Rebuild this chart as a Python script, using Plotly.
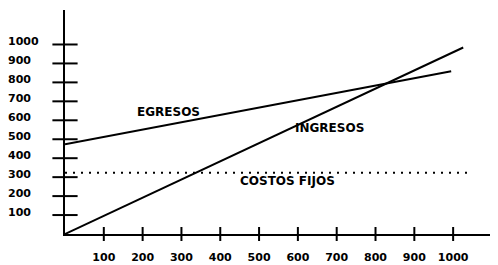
import plotly.graph_objects as go

# Data
tick_vals = [100, 200, 300, 400, 500, 600, 700, 800, 900, 1000]
tick_text = ["100", "200", "300", "400", "500", "600", "700", "800", "900", "1000"]

egresos_x = [0, 995]
egresos_y = [474, 859]
ingresos_x = [0, 1026]
ingresos_y = [0, 984]
costos_x = [0, 1044]
costos_y = [323, 323]

FONT = "DejaVu Sans"
fig = go.Figure()

fig.add_trace(go.Scatter(x=egresos_x, y=egresos_y, mode="lines",
                         line=dict(color="black", width=2), showlegend=False))
fig.add_trace(go.Scatter(x=ingresos_x, y=ingresos_y, mode="lines",
                         line=dict(color="black", width=2), showlegend=False))
fig.add_trace(go.Scatter(x=costos_x, y=costos_y, mode="lines",
                         line=dict(color="black", width=2, dash="2px,6px"), showlegend=False))

# crossing tick marks on the y axis
fig.add_trace(go.Scatter(x=[0] * len(tick_vals), y=tick_vals, mode="markers",
                         marker=dict(symbol="line-ew", size=18,
                                     line=dict(color="black", width=2)),
                         showlegend=False, cliponaxis=False, hoverinfo="skip"))
# crossing tick marks on the x axis
fig.add_trace(go.Scatter(x=tick_vals, y=[0] * len(tick_vals), mode="markers",
                         marker=dict(symbol="line-ns", size=10,
                                     line=dict(color="black", width=2)),
                         showlegend=False, cliponaxis=False, hoverinfo="skip"))

# y tick labels (left aligned)
for v, t in zip(tick_vals, tick_text):
    fig.add_annotation(x=-0.136, xref="paper", y=v, yref="y", text=t,
                       xanchor="left", yanchor="middle", showarrow=False, yshift=3,
                       font=dict(family=FONT, size=11, color="black", weight="bold"))

lab_font = dict(family=FONT, size=12, color="black", weight="bold")
fig.add_annotation(x=180, y=646, text="EGRESOS", xanchor="left", yanchor="middle",
                   showarrow=False, font=lab_font)
fig.add_annotation(x=588, y=560, text="INGRESOS", xanchor="left", yanchor="middle",
                   showarrow=False, font=lab_font)
fig.add_annotation(x=446, y=281, text="COSTOS FIJOS", xanchor="left", yanchor="middle",
                   showarrow=False, font=lab_font)

# page body adds an 8px margin, so the figure is sized to fit the window
fig.update_layout(
    width=490, height=257,
    margin=dict(l=57, r=1, t=2, b=28),
    paper_bgcolor="white", plot_bgcolor="white",
    xaxis=dict(range=[0, 1113], showgrid=False, zeroline=False, showline=True,
               linecolor="black", linewidth=2, tickvals=tick_vals, ticktext=tick_text,
               ticks="", ticklabelstandoff=12,
               tickfont=dict(family=FONT, size=11, color="black", weight="bold")),
    yaxis=dict(range=[0, 1182], showgrid=False, zeroline=False, showline=True,
               linecolor="black", linewidth=2, showticklabels=False, ticks=""),
)

fig.write_html("out.html")
